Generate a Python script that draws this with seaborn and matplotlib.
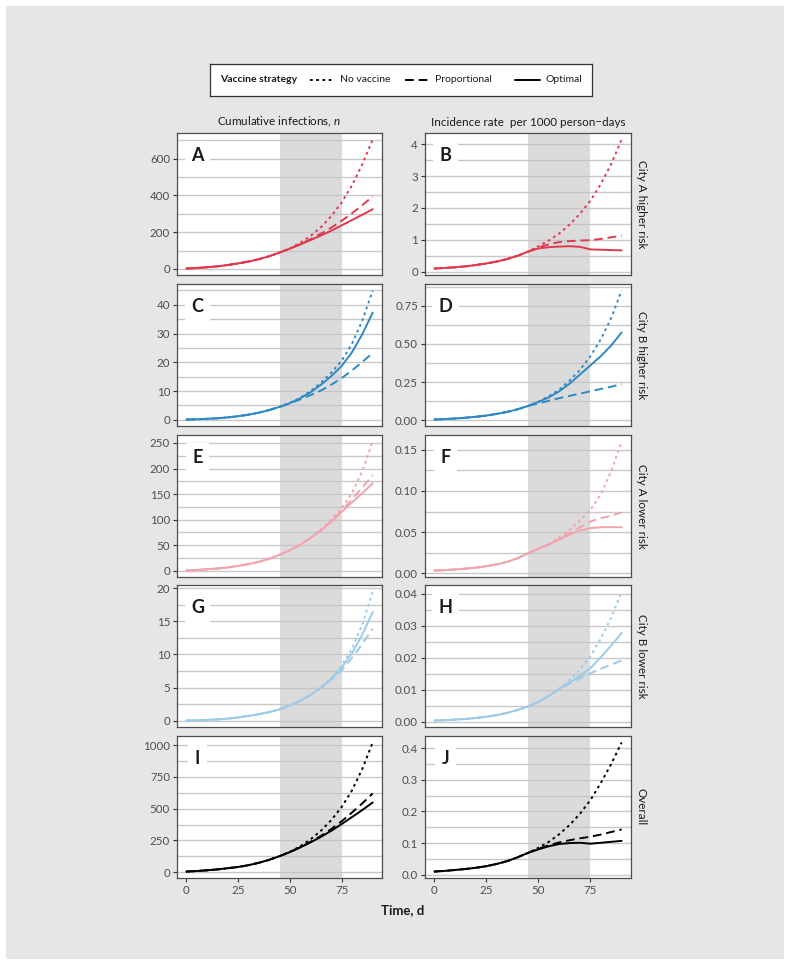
import numpy as np
import pandas as pd
import matplotlib
matplotlib.use('Agg')
import matplotlib.pyplot as plt
import seaborn as sns
from matplotlib.patches import Rectangle

# ---- data (every 5 days) ----
days = list(range(0, 95, 5))
strategies = ['No vaccine', 'Proportional', 'Optimal']

# days 0-45 shared by all strategies, days 50-90 per strategy
a_common = [2, 5, 9, 14, 21, 30, 40, 53, 69, 89]
a_none = [112, 142, 180, 227, 287, 362, 455, 570, 705]
a_prop = [111, 135, 162, 192, 225, 262, 303, 347, 395]
a_opt = [110, 133, 157, 182, 208, 237, 266, 295, 325]

b_common = [0.10, 0.12, 0.14, 0.17, 0.21, 0.26, 0.32, 0.40, 0.50, 0.63]
b_none = [0.80, 0.98, 1.20, 1.48, 1.82, 2.23, 2.75, 3.38, 4.15]
b_prop = [0.76, 0.86, 0.93, 0.96, 0.98, 0.99, 1.03, 1.08, 1.13]
b_opt = [0.73, 0.77, 0.79, 0.80, 0.78, 0.70, 0.69, 0.68, 0.67]

c_common = [0.1, 0.2, 0.35, 0.55, 0.85, 1.25, 1.8, 2.5, 3.4, 4.5]
c_none = [5.9, 7.7, 10.0, 12.9, 16.4, 20.5, 26.5, 34.5, 45]
c_prop = [5.7, 7.1, 8.6, 10.2, 12.2, 14.5, 17.2, 20.1, 23.3]
c_opt = [5.8, 7.5, 9.6, 12.2, 15.2, 18.7, 23.5, 29.8, 37.3]

d_common = [0.005, 0.008, 0.012, 0.017, 0.023, 0.031, 0.042, 0.055, 0.072, 0.094]
d_none = [0.122, 0.158, 0.20, 0.26, 0.33, 0.42, 0.53, 0.67, 0.85]
d_prop = [0.11, 0.128, 0.145, 0.16, 0.175, 0.19, 0.205, 0.22, 0.237]
d_opt = [0.12, 0.15, 0.19, 0.24, 0.30, 0.36, 0.42, 0.49, 0.575]

e_common = [0.5, 1.5, 3, 4.5, 6.5, 9.5, 13, 17.5, 23.5, 31]
e_none = [40, 51, 65, 81, 100, 122, 152, 195, 253]
e_prop = [40, 51, 64, 79, 97, 117, 140, 163, 187]
e_opt = [40, 51, 64, 79, 96, 115, 134, 152, 171]

f_common = [0.0035, 0.004, 0.0048, 0.0058, 0.007, 0.0088, 0.011, 0.014, 0.0185, 0.0243]
f_none = [0.030, 0.036, 0.044, 0.053, 0.064, 0.077, 0.096, 0.124, 0.160]
f_prop = [0.030, 0.035, 0.042, 0.049, 0.056, 0.063, 0.067, 0.070, 0.074]
f_opt = [0.030, 0.035, 0.041, 0.047, 0.052, 0.055, 0.056, 0.056, 0.056]

g_common = [0.03, 0.07, 0.12, 0.2, 0.32, 0.5, 0.72, 0.98, 1.3, 1.72]
g_none = [2.3, 3.0, 3.9, 5.0, 6.4, 8.3, 10.9, 14.5, 19.5]
g_prop = [2.3, 3.0, 3.9, 4.9, 6.2, 7.6, 9.5, 11.6, 13.9]
g_opt = [2.3, 3.0, 3.9, 5.0, 6.3, 8.0, 10.2, 13.0, 16.4]

h_common = [0.0003, 0.0004, 0.0006, 0.0008, 0.0011, 0.0015, 0.0020, 0.0027, 0.0036, 0.0047]
h_none = [0.0061, 0.0080, 0.0103, 0.0130, 0.0163, 0.0205, 0.026, 0.0325, 0.0407]
h_prop = [0.0061, 0.0080, 0.0101, 0.0119, 0.0135, 0.0151, 0.0165, 0.0178, 0.0191]
h_opt = [0.0061, 0.0080, 0.0102, 0.0122, 0.0143, 0.0167, 0.0201, 0.0238, 0.0277]

i_common = [5, 9, 15, 22, 31, 41, 55, 74, 97, 126]
i_none = [160, 204, 259, 326, 410, 513, 644, 814, 1022]
i_prop = [159, 196, 239, 286, 340, 401, 470, 542, 620]
i_opt = [158, 195, 235, 278, 326, 379, 434, 490, 549]

j_common = [0.010, 0.012, 0.015, 0.018, 0.022, 0.027, 0.034, 0.043, 0.055, 0.069]
j_none = [0.085, 0.104, 0.128, 0.157, 0.193, 0.236, 0.29, 0.35, 0.418]
j_prop = [0.082, 0.093, 0.102, 0.109, 0.115, 0.120, 0.127, 0.135, 0.143]
j_opt = [0.080, 0.090, 0.097, 0.100, 0.101, 0.098, 0.101, 0.104, 0.107]

# tick values / labels
a_ticks, a_labels = [0, 200, 400, 600], ['0', '200', '400', '600']
b_ticks, b_labels = [0, 1, 2, 3, 4], ['0', '1', '2', '3', '4']
c_ticks, c_labels = [0, 10, 20, 30, 40], ['0', '10', '20', '30', '40']
d_ticks, d_labels = [0, 0.25, 0.5, 0.75], ['0.00', '0.25', '0.50', '0.75']
e_ticks, e_labels = [0, 50, 100, 150, 200, 250], ['0', '50', '100', '150', '200', '250']
f_ticks, f_labels = [0, 0.05, 0.10, 0.15], ['0.00', '0.05', '0.10', '0.15']
g_ticks, g_labels = [0, 5, 10, 15, 20], ['0', '5', '10', '15', '20']
h_ticks, h_labels = [0, 0.01, 0.02, 0.03, 0.04], ['0.00', '0.01', '0.02', '0.03', '0.04']
i_ticks, i_labels = [0, 250, 500, 750, 1000], ['0', '250', '500', '750', '1000']
j_ticks, j_labels = [0, 0.1, 0.2, 0.3, 0.4], ['0.0', '0.1', '0.2', '0.3', '0.4']
x_ticks = [0, 25, 50, 75]

row_names = ['City A higher risk', 'City B higher risk', 'City A lower risk',
             'City B lower risk', 'Overall']
row_colors = ['#e0394f', '#2f88c6', '#f2a3ae', '#9ccbe8', '#000000']

panels = [
    ('A', 0, 0, a_common, a_none, a_prop, a_opt, a_ticks, a_labels),
    ('B', 1, 0, b_common, b_none, b_prop, b_opt, b_ticks, b_labels),
    ('C', 0, 1, c_common, c_none, c_prop, c_opt, c_ticks, c_labels),
    ('D', 1, 1, d_common, d_none, d_prop, d_opt, d_ticks, d_labels),
    ('E', 0, 2, e_common, e_none, e_prop, e_opt, e_ticks, e_labels),
    ('F', 1, 2, f_common, f_none, f_prop, f_opt, f_ticks, f_labels),
    ('G', 0, 3, g_common, g_none, g_prop, g_opt, g_ticks, g_labels),
    ('H', 1, 3, h_common, h_none, h_prop, h_opt, h_ticks, h_labels),
    ('I', 0, 4, i_common, i_none, i_prop, i_opt, i_ticks, i_labels),
    ('J', 1, 4, j_common, j_none, j_prop, j_opt, j_ticks, j_labels),
]

# ---- style ----
sns.set_theme(style='white')
plt.rcParams['font.family'] = ['Lato', 'DejaVu Sans']
plt.rcParams['mathtext.fontset'] = 'custom'
plt.rcParams['mathtext.rm'] = 'Lato'
plt.rcParams['mathtext.it'] = 'Lato:italic'

W, H = 791, 966
fig = plt.figure(figsize=(W / 100, H / 100), dpi=100)
fig.patch.set_facecolor('white')
# grey plate behind everything
fig.patches.append(Rectangle((6 / W, 1 - 959 / H), 778 / W, 953 / H,
                             transform=fig.transFigure, facecolor='#e6e6e6',
                             edgecolor='none', zorder=-10))

col_left = [177, 425]
col_width = [205, 206]
row_top = [133, 284, 435, 585, 736]
panel_h = 142

dash_map = {'No vaccine': (1.4, 1.8), 'Proportional': (4.5, 2.5), 'Optimal': ''}

for letter, col, row, common, none, prop, opt, ticks, labels in panels:
    ax = fig.add_axes([col_left[col] / W, 1 - (row_top[row] + panel_h) / H,
                       col_width[col] / W, panel_h / H])
    ax.set_facecolor('white')

    df = pd.concat([
        pd.DataFrame({'day': days, 'value': common + vals, 'strategy': s})
        for s, vals in zip(strategies, [none, prop, opt])
    ], ignore_index=True)

    sns.lineplot(data=df, x='day', y='value', style='strategy',
                 style_order=strategies, dashes=dash_map, color=row_colors[row],
                 lw=1.4, legend=False, estimator=None, ax=ax, zorder=3)

    vmax = df['value'].max()
    vmin = df['value'].min()
    span = vmax - vmin

    step = ticks[1] - ticks[0]
    minors = [t + step / 2 for t in ticks] + [ticks[0] - step / 2]
    ax.set_yticks(ticks)
    ax.set_yticklabels(labels)
    ax.set_yticks(minors, minor=True)
    ax.set_ylim(vmin - 0.05 * span, vmax + 0.05 * span)
    ax.set_xlim(-4.5, 94.5)
    ax.grid(axis='y', which='both', color='#c8c8c8', lw=1.0)
    ax.grid(axis='x', visible=False)
    ax.set_axisbelow(True)

    ax.axvspan(45, 75, facecolor='#c4c4c4', alpha=0.6, edgecolor='none', zorder=1.5)

    ax.tick_params(axis='y', which='major', left=True, length=3, width=0.8,
                   color='#333333', labelsize=8.3, labelcolor='#4d4d4d', pad=2)
    ax.tick_params(axis='y', which='minor', left=False, length=0)
    ax.set_xticks(x_ticks)
    if row == 4:
        ax.tick_params(axis='x', bottom=True, length=3, width=0.8, color='#333333',
                       labelsize=8.3, labelcolor='#4d4d4d', pad=2)
    else:
        ax.tick_params(axis='x', bottom=False, labelbottom=False)
    ax.set_xlabel('')
    ax.set_ylabel('')
    for sp in ax.spines.values():
        sp.set_color('#4d4d4d')
        sp.set_linewidth(0.9)

    ax.text(0.10, 0.84, letter, transform=ax.transAxes, fontsize=13,
            fontweight='bold', ha='center', va='center', color='#1a1a1a', zorder=5,
            bbox=dict(boxstyle='square,pad=0.35', facecolor='white', edgecolor='none'))

# column headers and row labels
fig.text(279.5 / W, 1 - 122 / H, 'Cumulative infections, $\\mathit{n}$', fontsize=8.4,
         ha='center', va='center', color='#1a1a1a')
fig.text(528 / W, 1 - 122 / H, 'Incidence rate  per 1000 person\u2212days', fontsize=8.4,
         ha='center', va='center', color='#1a1a1a')
for row, name in enumerate(row_names):
    fig.text(641 / W, 1 - (row_top[row] + panel_h / 2) / H, name, rotation=270,
             fontsize=8.4, ha='center', va='center', color='#1a1a1a')

fig.text(403 / W, 1 - 910 / H, 'Time, d', fontsize=9.5, fontweight='bold',
         ha='center', va='center', color='#1a1a1a')

# legend box
leg = fig.add_axes([210 / W, 1 - 96 / H, 382 / W, 32 / H])
leg.set_facecolor('white')
leg.set_xlim(210, 592)
leg.set_ylim(0, 1)
leg.set_xticks([])
leg.set_yticks([])
for sp in leg.spines.values():
    sp.set_color('#333333')
    sp.set_linewidth(0.9)
leg.text(220, 0.5, 'Vaccine strategy', fontsize=7.5, fontweight='bold',
         ha='left', va='center', color='#1a1a1a')
key_x = [310, 405, 515]
for s, kx in zip(strategies, key_x):
    if dash_map[s]:
        leg.plot([kx, kx + 25], [0.5, 0.5], color='black', lw=1.4, dashes=dash_map[s])
    else:
        leg.plot([kx, kx + 25], [0.5, 0.5], color='black', lw=1.4)
    leg.text(kx + 30, 0.5, s, fontsize=7.5, ha='left', va='center', color='#1a1a1a')

fig.savefig('out.png', dpi=100, facecolor='white')
